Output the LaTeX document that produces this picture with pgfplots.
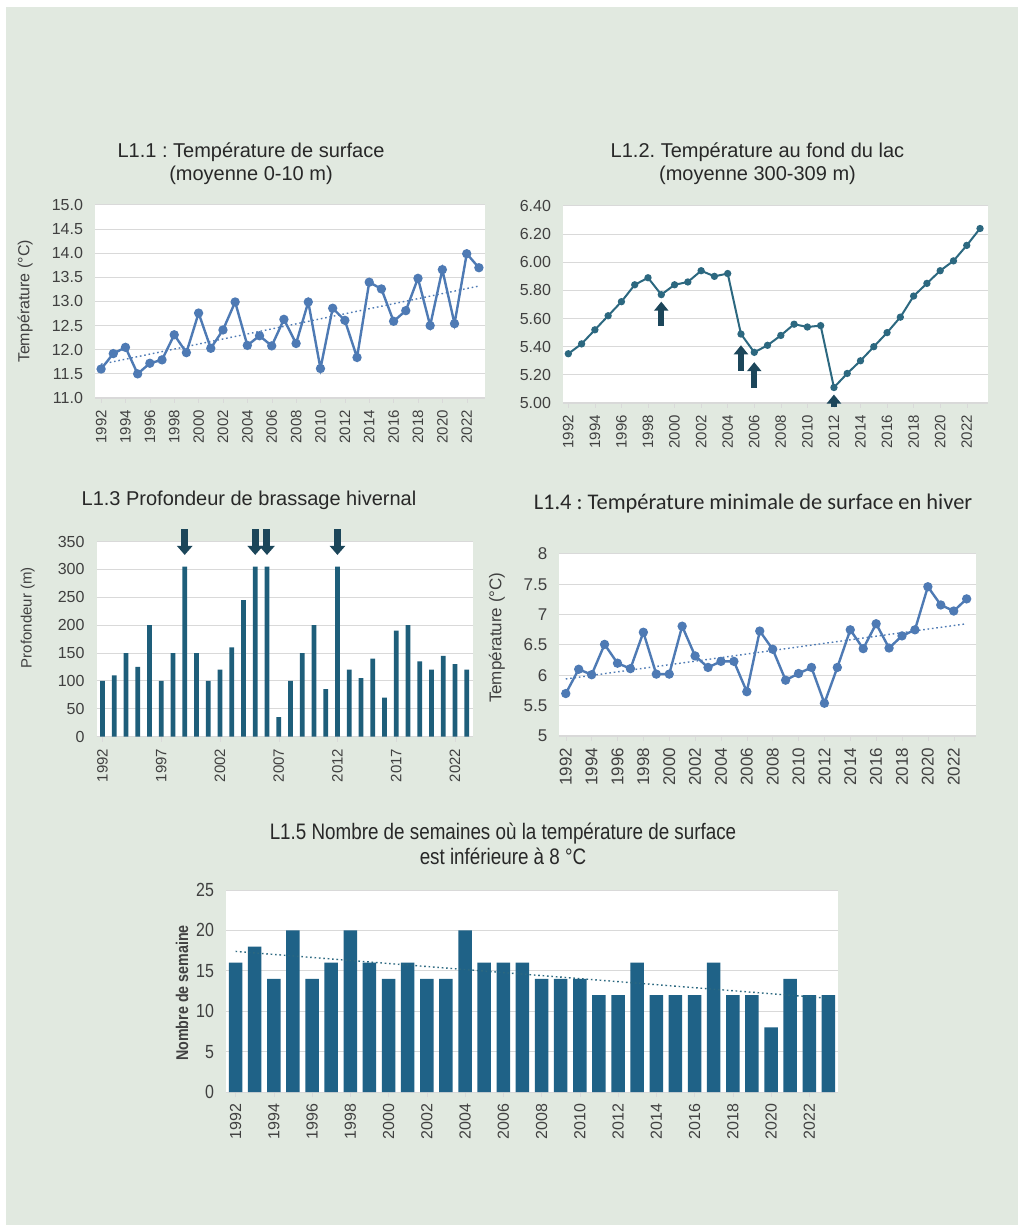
\documentclass[border=0pt]{standalone}
\usepackage{fontspec}
\setmainfont{Liberation Sans}
\newfontfamily\narrowfont[FakeStretch=0.84]{Liberation Sans}
\newfontfamily\calibri{Carlito}
\usepackage{pgfplots}
\pgfplotsset{compat=1.18}
\usetikzlibrary{arrows.meta}
\frenchspacing

\definecolor{bgpanel}{RGB}{225,233,224}
\definecolor{lineblue}{RGB}{78,122,180}
\definecolor{tealline}{RGB}{44,104,128}
\definecolor{barteal}{RGB}{30,94,122}
\definecolor{barblue}{RGB}{31,98,135}
\definecolor{arrowc}{RGB}{28,70,90}
\definecolor{gridc}{RGB}{217,217,217}
\definecolor{txt}{RGB}{64,64,64}
\definecolor{ttl}{RGB}{40,40,40}

\pgfplotsset{
  panel/.style={
    scale only axis,
    anchor=south west,
    axis background/.style={fill=white},
    axis x line*=bottom, axis y line*=left,
    x axis line style={draw=gridc},
    y axis line style={draw=none},
    ymajorgrids,
    major grid style={draw=gridc, line width=0.5pt},
    xtick style={draw=gridc}, ytick style={draw=none},
    minor tick style={draw=gridc},
    major tick length=2.5pt, minor tick length=2pt,
    tick align=outside,
    /pgf/number format/assume math mode=true,
    x tick label style={rotate=90, anchor=east, font=\fontsize{7.5}{8}\selectfont},
    xticklabel style={/pgf/number format/1000 sep={}},
    y tick label style={font=\fontsize{8}{9}\selectfont},
    tick label style={text=txt},
    ylabel style={font=\fontsize{8}{9}\selectfont, text=txt, anchor=center},
    clip=false,
  }
}

\begin{document}
\begin{tikzpicture}
\path[use as bounding box, fill=white] (0,0) rectangle (512pt,615.5pt);
\fill[bgpanel] (3pt,3pt) rectangle (509pt,612pt);

% ---- L1.1
\node[font=\fontsize{10}{11.5}\selectfont, text=ttl, align=center] at (125.5pt,533.75pt)
  {L1.1 : Température de surface\\(moyenne 0-10 m)};
\begin{axis}[panel, at={(47.5pt,416.5pt)}, width=195pt, height=96.5pt,
  xmin=1991.5, xmax=2023.5, ymin=11, ymax=15,
  ytick={11,11.5,12,12.5,13,13.5,14,14.5,15},
  xtick={1992,1994,...,2022}, minor x tick num=1,
  y tick label style={/pgf/number format/fixed, /pgf/number format/fixed zerofill, /pgf/number format/precision=1},
  ylabel={Température (°C)}, ylabel style={at={(axis description cs:-0.179,0.5)}}]
\addplot[lineblue, line width=1.2pt, mark=*, mark size=1.7pt] coordinates {
 (1992,11.60) (1993,11.92) (1994,12.05) (1995,11.50) (1996,11.72) (1997,11.79)
 (1998,12.31) (1999,11.94) (2000,12.76) (2001,12.03) (2002,12.41) (2003,12.99)
 (2004,12.09) (2005,12.29) (2006,12.08) (2007,12.63) (2008,12.13) (2009,12.99)
 (2010,11.61) (2011,12.86) (2012,12.61) (2013,11.84) (2014,13.40) (2015,13.26)
 (2016,12.59) (2017,12.81) (2018,13.48) (2019,12.50) (2020,13.66) (2021,12.54)
 (2022,13.99) (2023,13.70)};
\addplot[lineblue, line width=0.7pt, dash pattern=on 0.8pt off 1.4pt] coordinates {(1992,11.70) (2023,13.32)};
\end{axis}

% ---- L1.2
\node[font=\fontsize{10}{11.5}\selectfont, text=ttl, align=center] at (378.75pt,533.5pt)
  {L1.2. Température au fond du lac\\(moyenne 300-309 m)};
\begin{axis}[panel, at={(281.5pt,414pt)}, width=212.5pt, height=98.5pt,
  xmin=1991.6, xmax=2023.6, ymin=5, ymax=6.4,
  ytick={5,5.2,5.4,5.6,5.8,6,6.2,6.4},
  xtick={1992,1994,...,2022}, minor x tick num=1,
  y tick label style={/pgf/number format/fixed, /pgf/number format/fixed zerofill, /pgf/number format/precision=2}]
\addplot[tealline, line width=1pt, mark=*, mark size=1.3pt] coordinates {
 (1992,5.35) (1993,5.42) (1994,5.52) (1995,5.62) (1996,5.72) (1997,5.84)
 (1998,5.89) (1999,5.77) (2000,5.84) (2001,5.86) (2002,5.94) (2003,5.90)
 (2004,5.92) (2005,5.49) (2006,5.36) (2007,5.41) (2008,5.48) (2009,5.56)
 (2010,5.54) (2011,5.55) (2012,5.11) (2013,5.21) (2014,5.30) (2015,5.40)
 (2016,5.50) (2017,5.61) (2018,5.76) (2019,5.85) (2020,5.94) (2021,6.01)
 (2022,6.12) (2023,6.24)};
\draw[arrowc, line width=3.2pt, -{Triangle[length=4.5pt,width=7pt]}] (axis cs:1999,5.55) -- (axis cs:1999,5.72);
\draw[arrowc, line width=3.2pt, -{Triangle[length=4.5pt,width=7pt]}] (axis cs:2005,5.23) -- (axis cs:2005,5.41);
\draw[arrowc, line width=3.2pt, -{Triangle[length=4.5pt,width=7pt]}] (axis cs:2006,5.11) -- (axis cs:2006,5.29);
\draw[arrowc, line width=3.2pt, -{Triangle[length=4.5pt,width=7pt]}] (axis cs:2012,4.97) -- (axis cs:2012,5.06);
\end{axis}

% ---- L1.3
\node[font=\fontsize{10}{11.5}\selectfont, text=ttl] at (124.5pt,365.5pt)
  {L1.3 Profondeur de brassage hivernal};
\begin{axis}[panel, at={(48.3pt,247.2pt)}, width=188pt, height=97.5pt,
  xmin=1991.5, xmax=2023.5, ymin=0, ymax=350,
  ytick={0,50,...,350}, xtick={1992,1997,...,2022},
  ybar, bar width=2.4pt,
  ylabel={Profondeur (m)}, ylabel style={at={(axis description cs:-0.183,0.61)}, font=\fontsize{7.5}{9}\selectfont}]
\addplot[fill=barteal, draw=none] coordinates {
 (1992,100) (1993,110) (1994,150) (1995,125) (1996,200) (1997,100)
 (1998,150) (1999,305) (2000,150) (2001,100) (2002,120) (2003,160)
 (2004,245) (2005,305) (2006,305) (2007,35) (2008,100) (2009,150)
 (2010,200) (2011,85) (2012,305) (2013,120) (2014,105) (2015,140)
 (2016,70) (2017,190) (2018,200) (2019,135) (2020,120) (2021,145)
 (2022,130) (2023,120)};
\draw[arrowc, line width=3.5pt, -{Triangle[length=4.5pt,width=7.5pt]}] (axis cs:1999,372) -- (axis cs:1999,326);
\draw[arrowc, line width=3.5pt, -{Triangle[length=4.5pt,width=7.5pt]}] (axis cs:2005,372) -- (axis cs:2005,326);
\draw[arrowc, line width=3.5pt, -{Triangle[length=4.5pt,width=7.5pt]}] (axis cs:2006,372) -- (axis cs:2006,326);
\draw[arrowc, line width=3.5pt, -{Triangle[length=4.5pt,width=7.5pt]}] (axis cs:2012,372) -- (axis cs:2012,326);
\end{axis}

% ---- L1.4
\node[font=\calibri\fontsize{11.2}{12}\selectfont, text=ttl] at (376.5pt,363.5pt)
  {L1.4 : Température minimale de surface en hiver};
\begin{axis}[panel, at={(279.65pt,247.5pt)}, width=208.2pt, height=91pt,
  xmin=1991.5, xmax=2023.7, ymin=5, ymax=8,
  ytick={5,5.5,6,6.5,7,7.5,8},
  xtick={1992,1994,...,2022}, minor x tick num=1,
  x tick label style={font=\fontsize{8.5}{9}\selectfont},
  y tick label style={font=\fontsize{8.5}{9}\selectfont},
  ylabel={Température (°C)}, ylabel style={at={(axis description cs:-0.15,0.54)}, font=\fontsize{8.5}{9}\selectfont}]
\addplot[lineblue, line width=1.2pt, mark=*, mark size=1.7pt] coordinates {
 (1992,5.70) (1993,6.10) (1994,6.01) (1995,6.51) (1996,6.20) (1997,6.11)
 (1998,6.71) (1999,6.02) (2000,6.02) (2001,6.81) (2002,6.32) (2003,6.13)
 (2004,6.23) (2005,6.23) (2006,5.73) (2007,6.73) (2008,6.43) (2009,5.92)
 (2010,6.03) (2011,6.13) (2012,5.54) (2013,6.13) (2014,6.75) (2015,6.44)
 (2016,6.85) (2017,6.45) (2018,6.65) (2019,6.75) (2020,7.46) (2021,7.16)
 (2022,7.06) (2023,7.26)};
\addplot[lineblue, line width=0.7pt, dash pattern=on 0.8pt off 1.4pt] coordinates {(1992,5.94) (2023,6.85)};
\end{axis}

% ---- L1.5
\node[font=\narrowfont\fontsize{11.2}{12.5}\selectfont, text=ttl, align=center] at (251.5pt,193.75pt)
  {L1.5 Nombre de semaines où la température de surface\\est inférieure à 8 °C};
\begin{axis}[panel, at={(113pt,69.5pt)}, width=306pt, height=101pt,
  xmin=1991.5, xmax=2023.5, ymin=0, ymax=25,
  ytick={0,5,...,25}, xtick={1992,1994,...,2022},
  ybar, bar width=6.8pt,
  x tick label style={font=\fontsize{8}{9}\selectfont},
  y tick label style={font=\narrowfont\fontsize{9.5}{10}\selectfont},
  ylabel={Nombre de semaine}, ylabel style={at={(axis description cs:-0.072,0.49)}, font=\narrowfont\bfseries\fontsize{8.5}{9}\selectfont}]
\addplot[fill=barblue, draw=none] coordinates {
 (1992,16) (1993,18) (1994,14) (1995,20) (1996,14) (1997,16)
 (1998,20) (1999,16) (2000,14) (2001,16) (2002,14) (2003,14)
 (2004,20) (2005,16) (2006,16) (2007,16) (2008,14) (2009,14)
 (2010,14) (2011,12) (2012,12) (2013,16) (2014,12) (2015,12)
 (2016,12) (2017,16) (2018,12) (2019,12) (2020,8) (2021,14)
 (2022,12) (2023,12)};
\addplot[sharp plot, tealline, line width=0.7pt, dash pattern=on 0.8pt off 1.4pt] coordinates {(1992,17.4) (2023,11.6)};
\end{axis}
\end{tikzpicture}
\end{document}
